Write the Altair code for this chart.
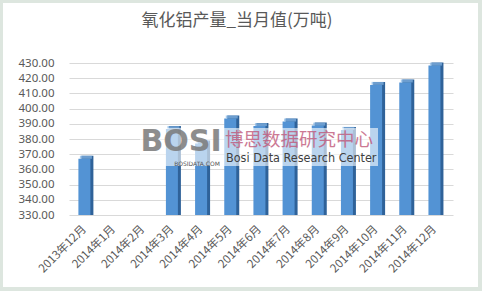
import altair as alt
import pandas as pd

months = ["2013年12月", "2014年1月", "2014年2月", "2014年3月", "2014年4月", "2014年5月",
          "2014年6月", "2014年7月", "2014年8月", "2014年9月", "2014年10月", "2014年11月", "2014年12月"]
values = [367.0, None, None, 386.5, 377.0, 393.5, 388.5, 391.5, 388.8, 386.0, 415.6, 417.2, 428.3]
y_ticks = [330, 340, 350, 360, 370, 380, 390, 400, 410, 420, 430]
y_min, y_max = 330, 430

title = "氧化铝产量_当月值(万吨)"

df = pd.DataFrame({"month": months, "value": values})

W, H = 384, 152
PL, PT = 69, 63

FRONT = "#5393d4"
SIDE = "#2f6299"
CAP = "#86b6e6"

xenc = alt.X("month:N",
             scale=alt.Scale(domain=months, paddingInner=0, paddingOuter=0.082, align=0.17),
             sort=months,
             axis=alt.Axis(title=None, labelAngle=-45, labelFontSize=11.5, labelColor="#595959",
                           labelFont="Microsoft YaHei, Noto Sans CJK SC, sans-serif",
                           domain=False, ticks=False, labelPadding=8, labelOffset=-4,
                           labelOverlap=False))
yenc = alt.Y("value:Q", scale=alt.Scale(domain=[y_min, y_max], zero=False, nice=False),
             axis=alt.Axis(title=None, values=y_ticks, format=".2f", labelFontSize=11.5,
                           labelColor="#595959", labelFont="Noto Sans, sans-serif",
                           domain=False, ticks=False, labelPadding=15,
                           grid=True, gridColor="#d9d9d9", gridWidth=1))

base = alt.Chart(df)

frame = base.mark_rect(fill="white", fillOpacity=0, stroke="#dde6df", strokeWidth=4).encode(
    x=alt.value(1 - PL), x2=alt.value(480 - PL), y=alt.value(1 - PT), y2=alt.value(289 - PT)
)

side = base.mark_bar(size=12, color=SIDE, xOffset=3, yOffset=-3).encode(
    x=xenc, y=yenc, y2=alt.datum(y_min)
)
front = base.mark_bar(size=12, color=FRONT).encode(x=xenc, y=yenc, y2=alt.datum(y_min))
cap = base.mark_tick(size=12, thickness=3, color=CAP, xOffset=1.5, yOffset=-1.5).encode(
    x=xenc, y=yenc
)

wm_df = pd.DataFrame({"t": ["x"]})
wmb = alt.Chart(wm_df)
wm_box = wmb.mark_rect(fill="white", opacity=0.6).encode(
    x=alt.value(140 - PL), x2=alt.value(378 - PL), y=alt.value(128 - PT), y2=alt.value(166 - PT)
)
wm_bosi = wmb.mark_text(text="BOSI", font="DejaVu Sans", fontWeight="bold", fontSize=30,
                        color="#7a7a7a", opacity=0.85, align="center", baseline="alphabetic").encode(
    x=alt.value(181 - PL), y=alt.value(151 - PT))
wm_com = wmb.mark_text(text="BOSIDATA.COM", font="DejaVu Sans", fontSize=6,
                       color="#555555", align="center", baseline="alphabetic").encode(
    x=alt.value(197 - PL), y=alt.value(166 - PT))
wm_cn = wmb.mark_text(text="博思数据研究中心", font="Noto Sans CJK SC", fontSize=18.5,
                      color="#c0587a", opacity=0.8, align="left", baseline="alphabetic").encode(
    x=alt.value(225 - PL), y=alt.value(146 - PT))
wm_en = wmb.mark_text(text="Bosi Data Research Center", font="DejaVu Sans Condensed, Liberation Sans",
                      fontSize=12.5, color="#3f3f3f", align="left", baseline="alphabetic").encode(
    x=alt.value(226 - PL), y=alt.value(162 - PT))
ttl = wmb.mark_text(text=title, font="Noto Sans CJK SC", fontSize=17, color="#595959",
                    align="center", baseline="middle").encode(
    x=alt.value(237 - PL), y=alt.value(21 - PT))

chart = alt.layer(frame, side, front, cap, wm_box, wm_bosi, wm_com, wm_cn, wm_en, ttl).properties(
    width=W, height=H,
    autosize=alt.AutoSizeParams(type="none"),
    padding={"left": PL, "top": PT, "right": 483 - PL - W, "bottom": 291 - PT - H},
    background="white",
).configure_view(stroke=None)

chart.save("out.html", embed_options={"renderer": "svg", "actions": False})
